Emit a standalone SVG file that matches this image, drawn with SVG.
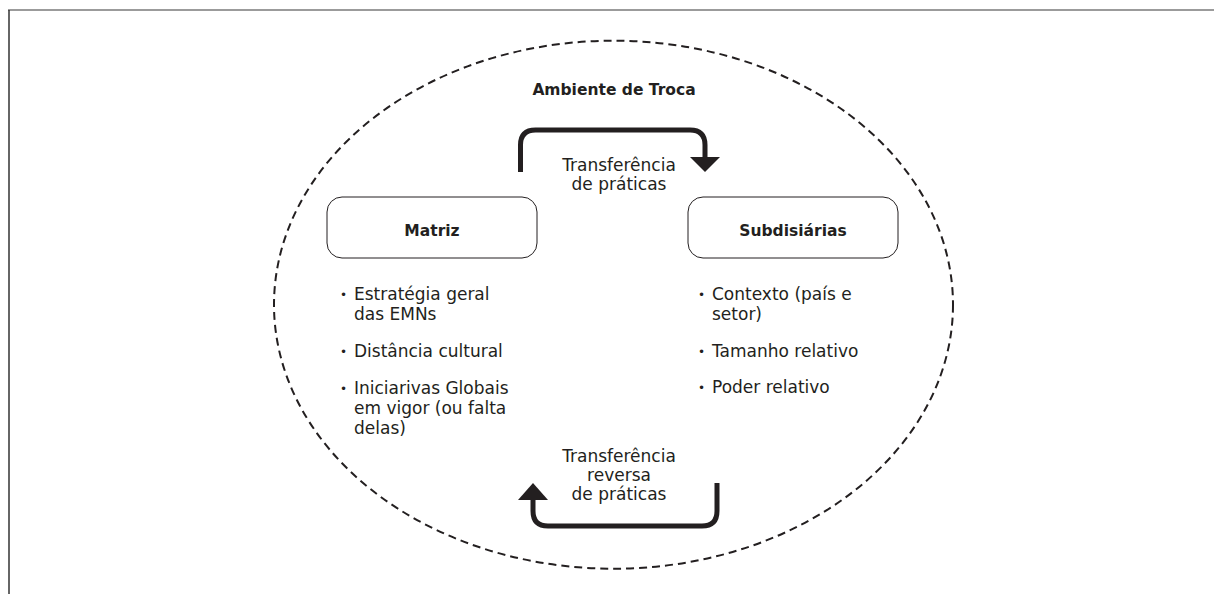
<svg xmlns="http://www.w3.org/2000/svg" width="1214" height="594" viewBox="0 0 1214 594">
<style>
text{font-family:"DejaVu Sans","Liberation Sans",sans-serif;fill:#231f20;}
.t{font-size:17px;}
.d{font-size:12px;}
.b{font-size:15.5px;font-weight:bold;}
.c{text-anchor:middle;}
.box{fill:#fff;stroke:#231f20;stroke-width:1;}
.arr{fill:none;stroke:#231f20;stroke-width:5;}
</style>
<rect width="1214" height="594" fill="#fff"/>
<g id="frame">
<line x1="8" y1="10" x2="1214" y2="10" stroke="#7a7a7a" stroke-width="1.5"/>
<line x1="9" y1="10" x2="9" y2="594" stroke="#333" stroke-width="1.5"/>
</g>
<g id="ambiente">
<ellipse cx="613.5" cy="304.7" rx="339.5" ry="264" fill="none" stroke="#231f20" stroke-width="2" stroke-dasharray="8 5"/>
<text class="b c" x="614" y="95">Ambiente de Troca</text>
</g>
<g id="connectors">
<g id="transfer">
<path class="arr" d="M520.5,172 V145 Q520.5,130 535.5,130 H690 Q705,130 705,145 V158"/>
<polygon points="690,157 720,157 705,172" fill="#231f20"/>
<text class="t c" x="619" y="171">Transferência</text>
<text class="t c" x="619" y="190">de práticas</text>
</g>
<g id="reverse">
<path class="arr" d="M717,483 V511 Q717,526 702,526 H548 Q533,526 533,511 V499"/>
<polygon points="518,500 548,500 533,483" fill="#231f20"/>
<text class="t c" x="619" y="462">Transferência</text>
<text class="t c" x="619" y="481">reversa</text>
<text class="t c" x="619" y="500">de práticas</text>
</g>
</g>
<g id="matriz">
<rect class="box" x="327" y="197" width="210" height="61" rx="15"/>
<text class="b c" x="432" y="236">Matriz</text>
<text class="d" x="340" y="299">•</text>
<text class="t" x="354" y="300">Estratégia geral</text>
<text class="t" x="354" y="320">das EMNs</text>
<text class="d" x="340" y="356">•</text>
<text class="t" x="354" y="357">Distância cultural</text>
<text class="d" x="340" y="393">•</text>
<text class="t" x="354" y="394">Iniciarivas Globais</text>
<text class="t" x="354" y="414">em vigor (ou falta</text>
<text class="t" x="354" y="434">delas)</text>
</g>
<g id="subsidiarias">
<rect class="box" x="688" y="197" width="210" height="61" rx="15"/>
<text class="b c" x="793" y="236">Subdisiárias</text>
<text class="d" x="698" y="299">•</text>
<text class="t" x="712" y="300">Contexto (país e</text>
<text class="t" x="712" y="320">setor)</text>
<text class="d" x="698" y="356">•</text>
<text class="t" x="712" y="357">Tamanho relativo</text>
<text class="d" x="698" y="392">•</text>
<text class="t" x="712" y="393">Poder relativo</text>
</g>
</svg>
